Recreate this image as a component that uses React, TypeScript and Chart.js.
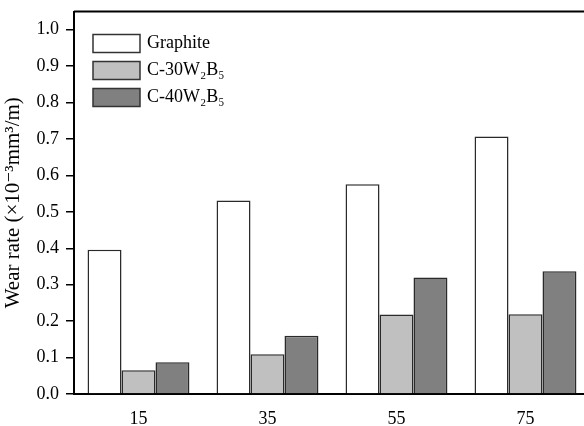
import React, { useEffect, useRef } from "react";
import { Chart, registerables } from "chart.js";

Chart.register(...registerables);

const categories = ["15", "35", "55", "75"];
const seriesNames = ["Graphite", "C-30W\u2082B\u2085", "C-40W\u2082B\u2085"];
const graphite = [0.396, 0.531, 0.576, 0.707];
const c30w2b5 = [0.065, 0.109, 0.218, 0.219];
const c40w2b5 = [0.087, 0.16, 0.32, 0.337];
const yTickValues = [0, 0.1, 0.2, 0.3, 0.4, 0.5, 0.6, 0.7, 0.8, 0.9, 1.0];
const yTitle = "Wear rate (\u00d710\u207b\u00b3mm\u00b3/m)";

const FONT = "'Liberation Serif', 'DejaVu Serif', serif";

const frame = {
  id: "frame",
  afterDraw(chart: any) {
    const { ctx, chartArea } = chart;
    ctx.save();
    ctx.strokeStyle = "#000";
    ctx.lineWidth = 2;
    ctx.beginPath();
    ctx.moveTo(chartArea.left, chartArea.top);
    ctx.lineTo(chartArea.right, chartArea.top);
    ctx.lineTo(chartArea.right, chartArea.bottom);
    ctx.stroke();
    ctx.restore();
  },
};

const insideLegend = {
  id: "insideLegend",
  afterDraw(chart: any) {
    const { ctx, chartArea } = chart;
    const x0 = chartArea.left + 19;
    const y0 = chartArea.top + 23;
    ctx.save();
    ctx.font = "18px " + FONT;
    ctx.textBaseline = "middle";
    ctx.textAlign = "left";
    chart.data.datasets.forEach((ds: any, i: number) => {
      const y = y0 + i * 27;
      ctx.fillStyle = ds.backgroundColor;
      ctx.fillRect(x0, y, 47, 18);
      ctx.strokeStyle = "#333";
      ctx.lineWidth = 1.5;
      ctx.strokeRect(x0, y, 47, 18);
      ctx.fillStyle = "#000";
      ctx.fillText(ds.label, x0 + 54, y + 9);
    });
    ctx.restore();
  },
};

export default function App() {
  const ref = useRef<HTMLCanvasElement | null>(null);
  useEffect(() => {
    if (!ref.current) return;
    const chart = new Chart(ref.current, {
      type: "bar",
      data: {
        labels: categories,
        datasets: [
          { label: seriesNames[0], data: graphite, backgroundColor: "#ffffff", borderColor: "#2a2a2a", borderWidth: 1.5 },
          { label: seriesNames[1], data: c30w2b5, backgroundColor: "#c0c0c0", borderColor: "#2a2a2a", borderWidth: 1.5 },
          { label: seriesNames[2], data: c40w2b5, backgroundColor: "#808080", borderColor: "#2a2a2a", borderWidth: 1.5 },
        ],
      },
      options: {
        responsive: false,
        animation: false,
        layout: { padding: { left: 0, top: 11, right: 10, bottom: 0 } },
        datasets: { bar: { categoryPercentage: 0.79, barPercentage: 1.0 } },
        plugins: {
          tooltip: { enabled: false },
          legend: { display: false },
        },
        scales: {
          x: {
            grid: { display: false, drawTicks: false },
            border: { display: true, color: "#000", width: 2 },
            ticks: { color: "#000", font: { family: FONT, size: 18 }, padding: 14 },
            afterFit(scale: any) { scale.height = 32; },
          },
          y: {
            min: 0,
            max: 1.05,
            ticks: {
              color: "#000",
              padding: 7,
              font: { family: FONT, size: 18, lineHeight: 0.5 },
              callback: (v: any) => Number(v).toFixed(1),
            },
            afterBuildTicks(scale: any) {
              scale.ticks = yTickValues.map((v) => ({ value: v }));
            },
            grid: { display: true, drawOnChartArea: false, drawTicks: true, tickLength: 8, color: "#000", lineWidth: 1.5 },
            border: { display: true, color: "#000", width: 2 },
            title: { display: true, text: yTitle, color: "#000", font: { family: FONT, size: 21 }, padding: { top: 1, bottom: 0 } },
            afterFit(scale: any) { scale.width = 74; },
          },
        },
      },
      plugins: [frame, insideLegend],
    });
    return () => chart.destroy();
  }, []);
  return (
    <div style={{ position: "absolute", left: 0, top: 0, width: 584, height: 426, overflow: "hidden", background: "#fff" }}>
      <canvas ref={ref} width={600} height={426} style={{ width: 600, height: 426, display: "block" }} />
    </div>
  );
}
